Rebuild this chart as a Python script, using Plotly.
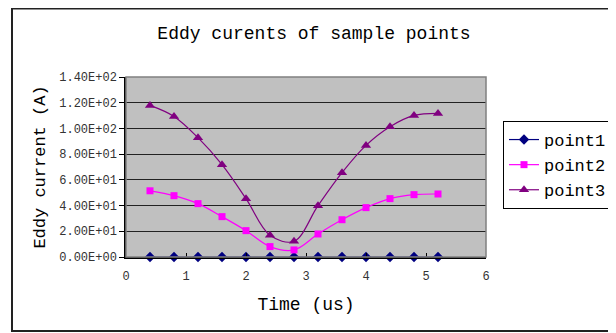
import plotly.graph_objects as go

time_us = [0.4, 0.8, 1.2, 1.6, 2.0, 2.4, 2.8, 3.2, 3.6, 4.0, 4.4, 4.8, 5.2]
point1 = [0, 0, 0, 0, 0, 0, 0, 0, 0, 0, 0, 0, 0]
point2 = [51.5, 47.7, 41.5, 31.4, 20.5, 8.1, 5.5, 17.9, 29.0, 38.4, 45.4, 48.5, 49.0]
point3 = [117.9, 109.3, 92.8, 71.8, 45.4, 16.9, 12.2, 39.9, 65.6, 86.8, 101.3, 110.1, 111.7]

y_tickvals = [0, 20, 40, 60, 80, 100, 120, 140]
y_ticktext = ["0.00E+00", "2.00E+01", "4.00E+01", "6.00E+01", "8.00E+01",
              "1.00E+02", "1.20E+02", "1.40E+02"]
x_tickvals = [0, 1, 2, 3, 4, 5, 6]

FONT = "Liberation Mono, Courier New, monospace"

fig = go.Figure()
series = [
    ("point1", point1, "#000080", "diamond", 8),
    ("point2", point2, "#FF00FF", "square", 7),
    ("point3", point3, "#800080", "triangle-up", 9),
]
for name, vals, color, sym, size in series:
    fig.add_trace(go.Scatter(
        x=time_us, y=vals, name=name, mode="lines+markers",
        line=dict(color=color, width=1.2, shape="spline", smoothing=1),
        marker=dict(symbol=sym, size=size, color=color),
        cliponaxis=False,
    ))

# page body has an 8px margin: figure coords = screen coords - 8
OFF = 8
W, H = 616 - OFF, 333 - OFF
L, R, T, B = 126 - OFF, 486 - OFF, 77 - OFF, 257 - OFF
pw, ph = R - L, B - T

def px(x):
    return (x - OFF - L) / pw

def py(y):
    return (B - (y - OFF)) / ph

fig.update_layout(
    template="none",
    width=W, height=H,
    margin=dict(l=L, r=W - R, t=T, b=H - B, pad=0, autoexpand=False),
    paper_bgcolor="white",
    plot_bgcolor="#C0C0C0",
    font=dict(family=FONT, color="black"),
    title=dict(text="Eddy curents of sample points", x=(314 - OFF) / W, xref="container",
               xanchor="center", y=1 - (33 - OFF) / H, yref="container", yanchor="middle",
               font=dict(size=18, family=FONT)),
    showlegend=True,
    legend=dict(x=px(503), y=py(121), xanchor="left", yanchor="top",
                bgcolor="white", bordercolor="black", borderwidth=1,
                font=dict(size=17, family=FONT), tracegroupgap=0, itemwidth=30),
    xaxis=dict(range=[0, 6], tickvals=x_tickvals, ticks="inside", ticklen=4,
               tickcolor="black", showgrid=False, zeroline=False, automargin=False,
               showline=True, linecolor="black", linewidth=1.5,
               ticklabelstandoff=7,
               tickfont=dict(size=12, family=FONT, color="#333333"),
               title=dict(text="Time (us)", font=dict(size=18, family=FONT), standoff=14)),
    yaxis=dict(range=[0, 140], tickvals=y_tickvals, ticktext=y_ticktext,
               ticks="outside", ticklen=5, tickcolor="black", automargin=False,
               showgrid=True, gridcolor="#222222", gridwidth=1, zeroline=False,
               showline=True, linecolor="black", linewidth=1.5,
               tickfont=dict(size=12, family=FONT, color="#333333"),
               title=dict(text="Eddy current (A)", font=dict(size=17, family=FONT), standoff=9)),
    shapes=[
        dict(type="rect", xref="paper", yref="paper", x0=0, x1=1, y0=0, y1=1,
             line=dict(color="#808080", width=1.5), layer="above"),
        dict(type="rect", xref="paper", yref="paper", x0=px(12), x1=px(640),
             y0=py(331), y1=py(8.5), line=dict(color="#222222", width=2), layer="below"),
    ],
)

fig.write_html("out.html")
